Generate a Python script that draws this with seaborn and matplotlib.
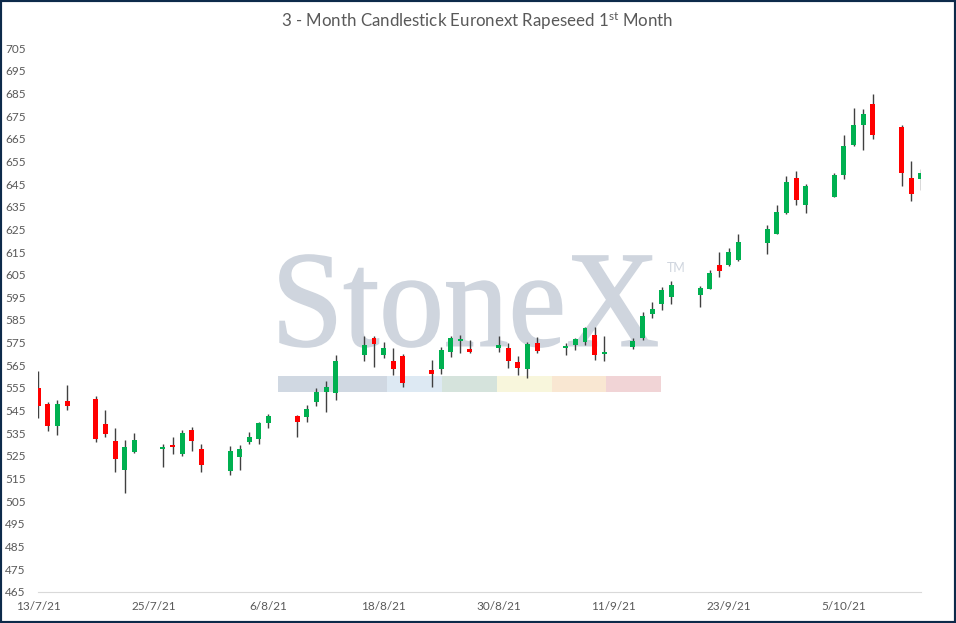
import matplotlib
matplotlib.use("Agg")
import matplotlib.pyplot as plt
import matplotlib.dates as mdates
from matplotlib.patches import Rectangle, PathPatch
from matplotlib.textpath import TextPath
from matplotlib.font_manager import FontProperties
from matplotlib.transforms import Affine2D
import numpy as np
import pandas as pd
import seaborn as sns

sns.set_theme(style="white")
plt.rcParams['font.family'] = ['Lato', 'DejaVu Sans']

# dias de pregao (13/7/21 a 13/10/21)
datas = [
    '13/7/21', '14/7/21', '15/7/21', '16/7/21', '19/7/21', '20/7/21', '21/7/21',
    '22/7/21', '23/7/21', '26/7/21', '27/7/21', '28/7/21', '29/7/21', '30/7/21',
    '2/8/21', '3/8/21', '4/8/21', '5/8/21', '6/8/21', '9/8/21', '10/8/21',
    '11/8/21', '12/8/21', '13/8/21', '16/8/21', '17/8/21', '18/8/21', '19/8/21',
    '20/8/21', '23/8/21', '24/8/21', '25/8/21', '26/8/21', '27/8/21', '30/8/21',
    '31/8/21', '1/9/21', '2/9/21', '3/9/21', '6/9/21', '7/9/21', '8/9/21',
    '9/9/21', '10/9/21', '13/9/21', '14/9/21', '15/9/21', '16/9/21', '17/9/21',
    '20/9/21', '21/9/21', '22/9/21', '23/9/21', '24/9/21', '27/9/21', '28/9/21',
    '29/9/21', '30/9/21', '1/10/21', '4/10/21', '5/10/21', '6/10/21', '7/10/21',
    '8/10/21', '11/10/21', '12/10/21', '13/10/21',
]
abertura = [
    555.0, 548.0, 538.0, 549.2, 550.0, 539.0, 531.5, 518.9, 526.7, 528.2, 529.6,
    525.9, 536.4, 528.0, 518.4, 524.6, 531.2, 532.6, 539.3, 542.6, 542.0, 549.0,
    553.2, 552.9, 569.5, 577.1, 569.5, 566.9, 569.2, 562.9, 563.4, 570.9, 575.9,
    572.2, 572.6, 572.6, 566.5, 563.4, 574.8, 572.8, 574.0, 575.3, 578.4, 570.1,
    573.1, 577.2, 587.7, 592.1, 595.2, 596.1, 598.7, 609.3, 609.3, 611.5, 619.0,
    623.0, 632.3, 647.7, 635.8, 639.5, 649.0, 662.3, 671.3, 680.4, 670.2, 647.7,
    647.4,
]
maxima = [
    562.4, 549.0, 549.6, 556.3, 551.4, 545.2, 537.1, 532.0, 535.1, 530.1, 533.2,
    536.2, 537.6, 530.1, 529.3, 529.6, 535.5, 539.9, 543.5, 542.9, 547.4, 554.9,
    558.1, 569.5, 577.9, 577.9, 575.1, 572.6, 570.0, 567.2, 572.9, 577.9, 578.4,
    576.0, 577.9, 574.7, 569.1, 575.1, 577.5, 574.7, 577.1, 581.9, 581.9, 577.9,
    576.9, 588.4, 592.8, 599.6, 602.2, 599.9, 606.9, 615.0, 616.7, 623.0, 626.8,
    635.7, 648.6, 650.8, 645.1, 649.8, 666.7, 678.6, 678.2, 684.8, 671.1, 655.2,
    651.7,
]
minima = [
    541.8, 536.0, 534.3, 545.4, 531.2, 533.4, 518.0, 508.7, 526.4, 520.2, 525.9,
    524.8, 527.3, 518.0, 516.7, 518.9, 530.4, 530.4, 537.3, 533.4, 540.1, 547.1,
    544.5, 549.7, 567.0, 564.4, 568.2, 560.9, 555.6, 555.6, 561.3, 568.8, 570.6,
    570.4, 570.9, 563.9, 560.9, 559.5, 570.4, 569.7, 571.9, 574.1, 567.5, 567.0,
    572.1, 576.3, 586.0, 589.3, 592.1, 590.8, 598.7, 604.2, 609.0, 611.2, 614.3,
    623.0, 631.8, 635.8, 632.4, 639.5, 647.4, 661.9, 660.2, 665.1, 644.3, 637.7,
    642.6,
]
fechamento = [
    547.1, 538.3, 548.0, 547.1, 532.6, 534.8, 523.7, 528.9, 532.0, 528.9, 528.9,
    535.1, 531.7, 521.1, 527.1, 528.0, 533.3, 539.6, 542.6, 540.1, 545.7, 553.2,
    555.4, 566.9, 574.1, 574.5, 572.6, 563.4, 557.3, 561.3, 571.8, 577.1, 576.6,
    570.9, 574.0, 567.0, 563.9, 574.5, 571.3, 573.5, 576.6, 581.5, 569.7, 570.9,
    575.7, 586.8, 589.9, 598.3, 600.5, 599.1, 605.8, 606.7, 615.0, 619.5, 625.2,
    632.7, 646.0, 638.2, 644.2, 648.9, 661.9, 671.1, 676.0, 666.9, 650.1, 640.8,
    649.9,
]

df = pd.DataFrame({
    'data': pd.to_datetime(datas, format='%d/%m/%y'),
    'abertura': abertura,
    'maxima': maxima,
    'minima': minima,
    'fechamento': fechamento,
})
df['sobe'] = df['fechamento'] >= df['abertura']

fig = plt.figure(figsize=(9.56, 6.23), dpi=100)
ax = fig.add_axes([38.3 / 956, 1 - 591.7 / 623, (920.7 - 38.3) / 956, (591.7 - 48.3) / 623])
ax.patch.set_alpha(0)

# marca d'agua StoneX (texto ajustado a caixa do original, em pixels)
cinza_marca = '#cfd5de'
caminho = TextPath((0, 0), 'StoneX', size=100,
                   prop=FontProperties(family='Liberation Serif'))
ext = caminho.get_extents()
px0, px1, py0, py1 = 280, 657, 623 - 347, 623 - 255
ajuste = (Affine2D()
          .translate(-ext.x0, -ext.y0)
          .scale((px1 - px0) / ext.width, (py1 - py0) / ext.height)
          .translate(px0, py0)
          .scale(1 / fig.dpi))
ax.add_patch(PathPatch(caminho, transform=ajuste + fig.dpi_scale_trans,
                       facecolor=cinza_marca, edgecolor=cinza_marca, lw=1.2,
                       clip_on=False, zorder=0))
ax.text(667 / 956, 1 - 268 / 623, 'TM', transform=fig.transFigure,
        fontsize=9, color=cinza_marca, ha='left', va='center', zorder=0)
faixa_x = [278.3, 387.3, 442.0, 497.0, 551.7, 606.0, 660.7]
faixa_cores = ['#d0d8e2', '#dde9f3', '#d5e3dc', '#f8f6dc', '#f9e7d2', '#f1d4d6']
for i, cor in enumerate(faixa_cores):
    ax.add_patch(Rectangle((faixa_x[i] / 956, 1 - 392.3 / 623),
                           (faixa_x[i + 1] - faixa_x[i]) / 956, 16.6 / 623,
                           transform=fig.transFigure, color=cor, lw=0,
                           clip_on=False, zorder=0.5))

x = mdates.date2num(df['data'])
ax.vlines(x, df['minima'], df['maxima'], color='#404040', lw=1.0, zorder=2)
cores = np.where(df['sobe'], '#00b050', '#ff0000')
ax.bar(x, df['fechamento'] - df['abertura'], bottom=df['abertura'],
       width=0.52, color=cores, lw=0, zorder=3)

ax.set_xlim(mdates.date2num(pd.Timestamp('2021-07-13')),
            mdates.date2num(pd.Timestamp('2021-10-13')))
ax.set_ylim(465, 705)

ticks_x = pd.date_range('2021-07-13', periods=8, freq='12D')
ax.set_xticks(mdates.date2num(ticks_x))
ax.set_xticklabels([f'{d.day}/{d.month}/{d.year % 100}' for d in ticks_x])
ax.set_yticks(np.arange(465, 706, 10))

sns.despine(ax=ax, left=True)
ax.spines['bottom'].set_color('#d9d9d9')
ax.spines['bottom'].set_linewidth(0.8)
ax.tick_params(axis='both', length=0, colors='#595959', labelsize=8.5)
ax.tick_params(axis='x', pad=7)
ax.tick_params(axis='y', pad=9)
ax.grid(False)

fig.text(0.499, 1 - 21.5 / 623,
         r'3 - Month Candlestick Euronext Rapeseed 1$\mathregular{^{st}}$ Month',
         ha='center', va='center', fontsize=12.2, color='#595959')

fig.add_artist(Rectangle((0, 0), 1, 1, transform=fig.transFigure, fill=False,
                         edgecolor='#0d2a4a', lw=3, clip_on=False))

fig.savefig('out.png', dpi=100)
